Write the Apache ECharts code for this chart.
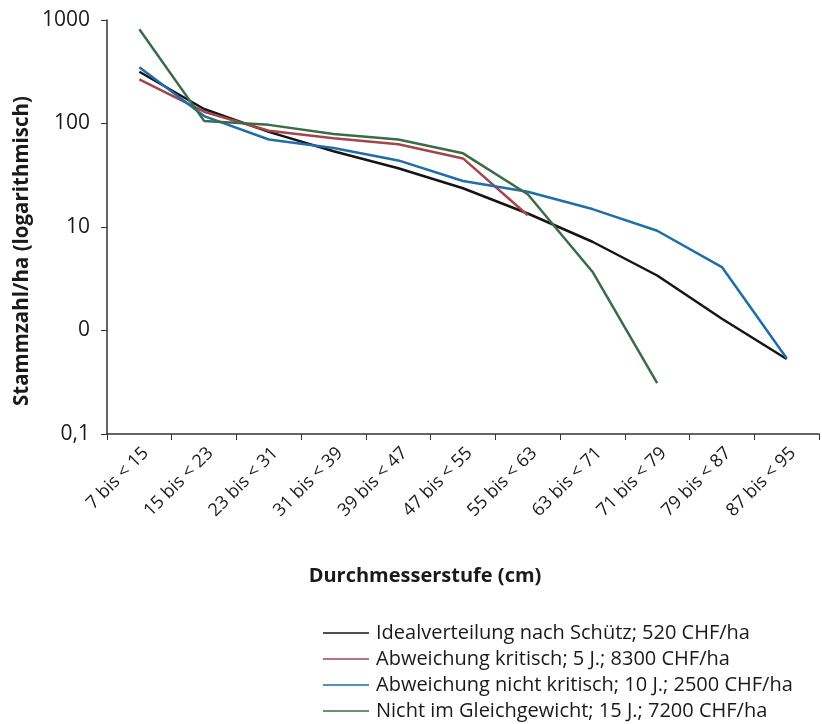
<!DOCTYPE html>
<html>
<head>
<meta charset="utf-8">
<script src="https://cdn.jsdelivr.net/npm/echarts@6/dist/echarts.min.js"></script>
<style>
    html, body { margin: 0; padding: 0; background: #fff; }
    #chart { width: 822px; height: 724px; }
</style>
</head>
<body>
<div id="chart"></div>
<script>
// Durchmesserstufen
const categories = ['7 bis < 15', '15 bis < 23', '23 bis < 31', '31 bis < 39', '39 bis < 47', '47 bis < 55',
    '55 bis < 63', '63 bis < 71', '71 bis < 79', '79 bis < 87', '87 bis < 95']

const idealData = [316, 138, 83, 54, 37, 23.7, 13.5, 7.2, 3.4, 1.3, 0.53]
const kritischData = [267, 130, 85, 72, 63, 46, 13]
const nichtKritischData = [349, 118, 70, 58, 44, 27.8, 21.9, 14.9, 9.2, 4.1, 0.54]
const gleichgewichtData = [813, 106, 97, 79, 70, 51.5, 20.7, 3.7, 0.31]

const seriesNames = [
    'Idealverteilung nach Schütz; 520 CHF/ha',
    'Abweichung kritisch; 5 J.; 8300 CHF/ha',
    'Abweichung nicht kritisch; 10 J.; 2500 CHF/ha',
    'Nicht im Gleichgewicht; 15 J.; 7200 CHF/ha',
]

// tick labels as printed in the original (1 is shown as "0")
const yTickLabels = { 0.1: '0,1', 1: '0', 10: '10', 100: '100', 1000: '1000' }

const xTitle = 'Durchmesserstufe (cm)'
const yTitle = 'Stammzahl/ha (logarithmisch)'

const font = '"Open Sans", Lato, sans-serif'

function lineSeries(name, data, color) {
    return {
        name: name,
        type: 'line',
        data: data,
        symbol: 'none',
        lineStyle: { color: color, width: 2.5 },
        itemStyle: { color: color },
        animation: false,
    }
}

const chart = echarts.init(document.getElementById('chart'))
chart.setOption({
    textStyle: { fontFamily: font },
    grid: {
        left: 107,
        right: 3,
        top: 20,
        bottom: 290,
        containLabel: false,
    },
    graphic: [
        {
            type: 'text',
            x: 425,
            y: 576,
            style: {
                text: xTitle,
                fontFamily: font,
                fontSize: 20,
                fontWeight: 'bold',
                fill: '#1a1a1a',
                align: 'center',
                verticalAlign: 'middle',
            },
        },
        {
            type: 'text',
            x: 22,
            y: 251,
            rotation: Math.PI / 2,
            style: {
                text: yTitle,
                fontFamily: font,
                fontSize: 20.5,
                fontWeight: 'bold',
                fill: '#1a1a1a',
                align: 'center',
                verticalAlign: 'middle',
            },
        },
    ],
    legend: {
        orient: 'vertical',
        left: 323,
        top: 623,
        padding: 0,
        icon: 'rect',
        itemWidth: 46,
        itemHeight: 1.5,
        itemGap: 6,
        textStyle: { fontSize: 20, color: '#1a1a1a', fontFamily: font, padding: [0, 0, 0, 2] },
        data: seriesNames,
    },
    xAxis: {
        type: 'category',
        data: categories,
        boundaryGap: true,
        axisLine: { lineStyle: { color: '#333', width: 1.5 } },
        axisTick: { show: true, length: 6, alignWithLabel: false, lineStyle: { color: '#333' } },
        axisLabel: {
            rotate: 45,
            interval: 0,
            fontSize: 18,
            color: '#1a1a1a',
            margin: 10,
            verticalAlign: 'top',
        },
    },
    yAxis: {
        type: 'log',
        logBase: 10,
        min: 0.1,
        max: 1000,
        axisLine: { show: true, lineStyle: { color: '#333', width: 1.5 } },
        axisTick: { show: true, length: 6, lineStyle: { color: '#333' } },
        splitLine: { show: false },
        axisLabel: {
            fontSize: 21,
            color: '#1a1a1a',
            margin: 17,
            formatter: function (v) {
                return yTickLabels[v] !== undefined ? yTickLabels[v] : String(v)
            },
        },
    },
    series: [
        lineSeries(seriesNames[0], idealData, '#151515'),
        lineSeries(seriesNames[1], kritischData, '#a3454b'),
        lineSeries(seriesNames[2], nichtKritischData, '#1f6ea9'),
        lineSeries(seriesNames[3], gleichgewichtData, '#3a6d47'),
    ],
})
</script>
</body>
</html>
